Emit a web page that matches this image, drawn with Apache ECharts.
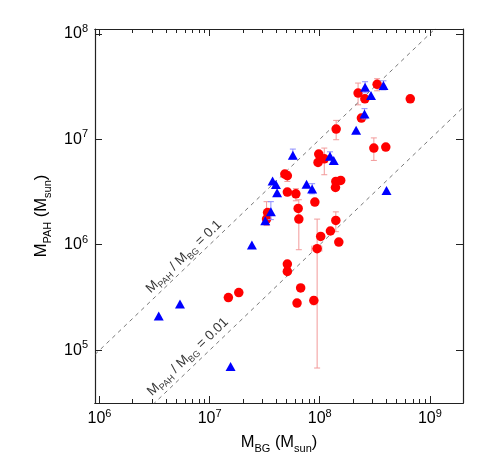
<!DOCTYPE html>
<html>
<head>
<meta charset="utf-8">
<script src="https://cdn.jsdelivr.net/npm/echarts@6/dist/echarts.min.js"></script>
<style>
html,body{margin:0;padding:0;background:#fff;}
#myChart{width:490px;height:463px;}
</style>
</head>
<body>
<div id="myChart"></div>
<script>
// red circles: M_BG, M_PAH (M_sun)
var redMbg  = [2.23e8, 2.57e8, 3.32e8, 6.64e8, 2.39e8, 1.41e8, 3.10e8, 3.98e8, 9.8e7, 9.65e7,
               1.10e8, 4.82e7, 5.08e7, 5.08e7, 6.07e7, 6.37e7, 6.46e7, 9.03e7, 1.40e8, 1.55e8,
               1.39e8, 3.36e7, 3.29e7, 1.40e8, 1.25e8, 1.02e8, 1.49e8, 9.47e7, 5.08e7, 5.08e7,
               6.71e7, 6.22e7, 8.84e7, 1.48e7, 1.84e7];
var redMpah = [2.74e7, 2.42e7, 3.32e7, 2.42e7, 1.59e7, 1.25e7, 8.25e6, 8.43e6, 7.24e6, 6.03e6,
               6.53e6, 4.68e6, 4.51e6, 3.16e6, 3.04e6, 2.21e6, 1.75e6, 2.54e6, 3.98e6, 4.07e6,
               3.49e6, 2.02e6, 1.75e6, 1.70e6, 1.35e6, 1.20e6, 1.06e6, 9.17e5, 6.56e5, 5.58e5,
               3.90e5, 2.80e5, 2.96e5, 3.16e5, 3.52e5];
// [low, high] of M_PAH, null = no bar
var redYErr = [[2.12e7, 3.41e7], null, [2.88e7, 3.75e7], null, null, [9.9e6, 1.51e7], [6.3e6, 1.03e7], null, null, null,
               [4.61e6, 8.25e6], null, [3.98e6, 4.95e6], null, [2.61e6, 3.40e6], null, [8.97e5, 2.67e6], null, null, null,
               null, null, [1.52e6, 2.56e6], [1.33e6, 2.05e6], null, null, null, [6.78e4, 1.75e6], null, null,
               null, null, [2.70e5, 3.21e5], null, null];
// [M_BG low, M_BG high, M_PAH]
var redXErr = [[8.47e7, 1.045e8, 9.17e5]];

// blue triangles
var blueMbg  = [2.58e8, 2.92e8, 3.79e8, 2.55e8, 2.14e8, 1.24e8, 1.34e8, 5.70e7, 3.73e7, 4.00e7,
                4.10e7, 7.59e7, 8.53e7, 4.04e8, 3.60e7, 3.20e7, 2.42e7, 5.38e6, 3.45e6, 1.55e7];
var blueMpah = [3.11e7, 2.60e7, 3.24e7, 1.74e7, 1.22e7, 6.90e6, 6.30e6, 7.05e6, 4.02e6, 3.73e6,
                3.11e6, 3.75e6, 3.37e6, 3.27e6, 2.05e6, 1.69e6, 9.94e5, 2.75e5, 2.11e5, 7.02e4];
var blueYErr = [[2.76e7, 3.51e7], null, [2.94e7, 3.58e7], [1.56e7, 1.95e7], null, [6.4e6, 7.6e6], null, [6.49e6, 8.07e6], null, null,
                null, null, [3.04e6, 3.79e6], null, [1.73e6, 2.56e6], null, null, null, null, null];

// ratio lines M_PAH / M_BG
var ratios = [0.1, 0.01];
var ratioText = ['0.1', '0.01'];
var ratioLabelPos = [[5.85e6, 7.69e5], [6.35e6, 8.67e4]];

// axes
var xRange = [9.1e5, 2e9];
var yRange = [3.16e4, 1.11e8];
var xMajor = [1e6, 1e7, 1e8, 1e9];
var yMajor = [1e5, 1e6, 1e7, 1e8];
var minorSteps = [2, 3, 4, 5, 6, 7, 8, 9];

var L = Math.log10;
var FONT = 'Liberation Sans, Arial, sans-serif';

var xMinor = [];
[1e6, 1e7, 1e8].forEach(function (d) {
    minorSteps.forEach(function (k) { xMinor.push(L(d * k)); });
});

function pts(xs, ys) {
    return xs.map(function (x, i) { return [L(x), L(ys[i])]; });
}
function errs(xs, e) {
    var out = [];
    e.forEach(function (v, i) { if (v) out.push([L(xs[i]), L(v[0]), L(v[1])]); });
    return out;
}

function vBar(color) {
    return function (params, api) {
        var a = api.coord([api.value(0), api.value(1)]);
        var b = api.coord([api.value(0), api.value(2)]);
        var st = {stroke: color, lineWidth: 1};
        return {type: 'group', children: [
            {type: 'line', shape: {x1: a[0], y1: a[1], x2: b[0], y2: b[1]}, style: st},
            {type: 'line', shape: {x1: a[0] - 3, y1: a[1], x2: a[0] + 3, y2: a[1]}, style: st},
            {type: 'line', shape: {x1: b[0] - 3, y1: b[1], x2: b[0] + 3, y2: b[1]}, style: st}
        ]};
    };
}
function hBar(color) {
    return function (params, api) {
        var a = api.coord([api.value(0), api.value(2)]);
        var b = api.coord([api.value(1), api.value(2)]);
        var st = {stroke: color, lineWidth: 1};
        return {type: 'group', children: [
            {type: 'line', shape: {x1: a[0], y1: a[1], x2: b[0], y2: b[1]}, style: st},
            {type: 'line', shape: {x1: a[0], y1: a[1] - 3, x2: a[0], y2: a[1] + 3}, style: st},
            {type: 'line', shape: {x1: b[0], y1: b[1] - 3, x2: b[0], y2: b[1] + 3}, style: st}
        ]};
    };
}

var powRich = {
    b: {fontSize: 16, fontFamily: FONT, color: '#000', lineHeight: 21},
    e: {fontSize: 11, fontFamily: FONT, color: '#000', verticalAlign: 'top'}
};
function powLabel(v) { return '{b|10}{e|' + Math.round(v) + '}'; }

var nameRich = {
    m: {fontSize: 16.5, fontFamily: FONT, color: '#000', lineHeight: 23},
    s: {fontSize: 11, fontFamily: FONT, color: '#000', verticalAlign: 'bottom'}
};

function xAx(pos, ticks, len, labels) {
    return {
        type: 'value', position: pos, min: L(xRange[0]), max: L(xRange[1]),
        axisLine: {show: true, onZero: false, lineStyle: {color: '#222', width: 1.2}},
        axisTick: {show: true, inside: true, length: len, customValues: ticks, lineStyle: {color: '#222'}},
        axisLabel: labels ? {show: true, customValues: xMajor.map(L), formatter: powLabel, rich: powRich, margin: 5}
                          : {show: false},
        splitLine: {show: false}
    };
}
function yAx(pos, labels) {
    return {
        type: 'value', position: pos, min: L(yRange[0]), max: L(yRange[1]),
        axisLine: {show: true, onZero: false, lineStyle: {color: '#222', width: 1.2}},
        axisTick: {show: true, inside: true, length: 7, customValues: yMajor.map(L), lineStyle: {color: '#222'}},
        axisLabel: labels ? {show: true, customValues: yMajor.map(L), formatter: powLabel, rich: powRich, margin: 7}
                          : {show: false},
        splitLine: {show: false}
    };
}

var xAxes = [
    xAx('bottom', xMajor.map(L), 7, true),
    xAx('bottom', xMinor, 4, false),
    xAx('top', xMajor.map(L), 7, false),
    xAx('top', xMinor, 4, false)
];
xAxes[0].name = '{m|M}{s|BG}{m| (M}{s|sun}{m|)}';
xAxes[0].nameLocation = 'middle';
xAxes[0].nameGap = 28;
xAxes[0].nameTextStyle = {rich: nameRich};

var yAxes = [yAx('left', true), yAx('right', false)];
yAxes[0].name = '{m|M}{s|PAH}{m| (M}{s|sun}{m|)}';
yAxes[0].nameLocation = 'middle';
yAxes[0].nameGap = 37;
yAxes[0].nameTextStyle = {rich: nameRich};

var series = [];
ratios.forEach(function (r, i) {
    series.push({
        type: 'line', symbol: 'none', silent: true, clip: true,
        lineStyle: {color: '#555', width: 0.8, type: [4, 4]},
        data: [[L(xRange[0]), L(xRange[0] * r)], [L(xRange[1]), L(xRange[1] * r)]]
    });
    series.push({
        type: 'scatter', symbolSize: 1, itemStyle: {color: 'rgba(0,0,0,0)'}, silent: true,
        data: [[L(ratioLabelPos[i][0]), L(ratioLabelPos[i][1])]],
        label: {
            show: true, position: 'inside', rotate: 43.7,
            formatter: '{m|M}{s|PAH}{m| / M}{s|BG}{m| = ' + ratioText[i] + '}',
            rich: {
                m: {fontSize: 13.5, fontFamily: FONT, color: '#000', lineHeight: 18},
                s: {fontSize: 9, fontFamily: FONT, color: '#000', verticalAlign: 'bottom'}
            }
        }
    });
});
series.push({
    type: 'custom', renderItem: vBar('#f29a9a'), encode: {x: 0, y: [1, 2]},
    data: errs(redMbg, redYErr), z: 2
});
series.push({
    type: 'custom', renderItem: hBar('#f29a9a'), encode: {x: [0, 1], y: 2},
    data: redXErr.map(function (v) { return [L(v[0]), L(v[1]), L(v[2])]; }), z: 2
});
series.push({
    type: 'scatter', symbol: 'circle', symbolSize: 9.5,
    itemStyle: {color: '#ff0000', opacity: 1}, data: pts(redMbg, redMpah), z: 3
});
series.push({
    type: 'custom', renderItem: vBar('#8c8cff'), encode: {x: 0, y: [1, 2]},
    data: errs(blueMbg, blueYErr), z: 4
});
series.push({
    type: 'scatter', symbol: 'triangle', symbolSize: [10, 9],
    itemStyle: {color: '#0000ff', opacity: 1}, data: pts(blueMbg, blueMpah), z: 5
});

var option = {
    backgroundColor: '#fff',
    animation: false,
    grid: {left: 95, right: 27, top: 29, bottom: 60},
    xAxis: xAxes,
    yAxis: yAxes,
    series: series
};

var myChart = echarts.init(document.getElementById('myChart'));
myChart.setOption(option);
</script>
</body>
</html>
